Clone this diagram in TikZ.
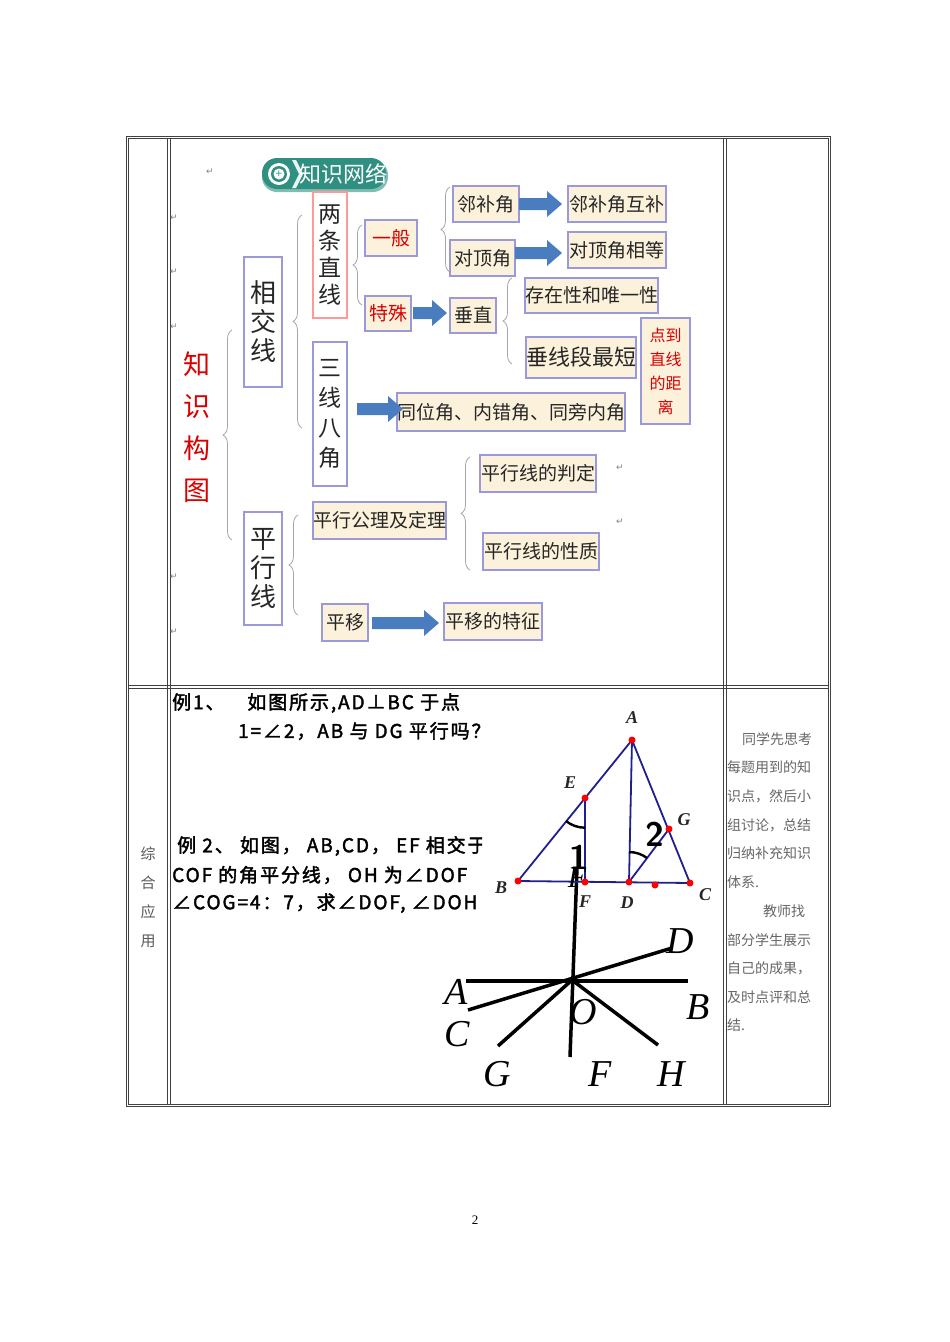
\documentclass[tikz,border=0pt]{standalone}
\usepackage{fontspec}
\setmainfont{Liberation Serif}
\newfontfamily\cjk{Noto Sans CJK SC}
\newfontfamily\cjkb[FakeBold=2,LetterSpace=10]{Noto Sans CJK SC}
\newfontfamily\dvs{DejaVu Sans}
\usetikzlibrary{decorations.pathreplacing}
\definecolor{bxfill}{HTML}{FCF2DC}
\definecolor{bxline}{HTML}{9A9ADA}
\definecolor{arrc}{HTML}{4A7CC0}
\definecolor{tri}{HTML}{1F1F8F}
\definecolor{badge}{HTML}{2F8F80}
\tikzset{
 bx/.style={draw=bxline,line width=1.2pt,fill=bxfill,inner sep=0pt,font=\cjk\fontsize{19}{21}\selectfont,text=black!85},
 vbx/.style={draw=bxline,line width=1.2pt,fill=white,inner sep=0pt,align=center,font=\cjk\fontsize{26}{29}\selectfont,text=black!85},
 brc/.style={draw=gray!70,line width=0.8pt,decorate,decoration={brace,amplitude=9pt}},
 tbl/.style={draw=black!75,line width=0.8pt},
 ret/.style={font=\dvs\fontsize{9}{9}\selectfont,text=gray},
 tl/.style={draw=tri,line width=1.8pt},
 dot/.style={circle,fill=red,inner sep=0pt,minimum size=7pt},
 pl/.style={font=\bfseries\itshape\fontsize{18}{18}\selectfont,text=black!85},
 bl/.style={line width=3.5pt,draw=black},
 big/.style={font=\itshape\fontsize{38}{38}\selectfont},
 ex/.style={font=\cjkb\fontsize{19}{21}\selectfont,anchor=west,inner sep=0pt},
 rc/.style={font=\cjk\fontsize{14}{14}\selectfont,text=black!60,anchor=west,inner sep=0pt}
}
\newcommand\bxn[7]{\node[#7,minimum width=#4pt-#2pt,minimum height=#5pt-#3pt] (#1) at ({(#2+#4)/2},{(#3+#5)/2}) {#6};}
\newcommand\barr[3]{\fill[arrc] (#1,{#3-6}) -- ({#2-15},{#3-6}) -- ({#2-15},{#3-13}) -- (#2,#3) -- ({#2-15},{#3+13}) -- ({#2-15},{#3+6}) -- (#1,{#3+6}) -- cycle;}
\begin{document}
\begin{tikzpicture}[x=1pt,y=-1pt]
\useasboundingbox (0,0) rectangle (950,1342);
% table
\draw[tbl] (126,136) rectangle (830,1106);
\draw[tbl] (128,138) rectangle (828,1104);
\draw[tbl] (167,138) -- (167,1104);
\draw[tbl] (170,138) -- (170,1104);
\draw[tbl] (723,138) -- (723,1104);
\draw[tbl] (726,138) -- (726,1104);
\draw[tbl] (128,685) -- (828,685);
\draw[tbl] (128,688) -- (828,688);
% header badge
\fill[badge!60!white,rounded corners=15pt] (262,160) rectangle (388,192);
\fill[badge,rounded corners=15pt] (262,158) rectangle (386,189);
\fill[white] (279,174) circle (11);
\fill[badge] (279,174) circle (8);
\fill[white] (279,174) circle (5.5);
\node[font=\dvs\fontsize{9}{9}\selectfont,text=badge] (plus) at (279,174) {+};
\fill[white!90!badge] (292,160) -- (299,174) -- (292,188) -- (296,188) -- (303,174) -- (296,160) -- cycle;
\node[font=\cjk\fontsize{22}{22}\selectfont,text=white] (hdr) at (343,174) {知识网络};
% return marks
\foreach \x/\y [count=\i] in {210/172,174/218,174/272,174/327,174/577,174/632,620/468,620/522}
  \node[ret] (r\i) at (\x,\y) {↵};
% left title
\node[align=center,font=\cjk\fontsize{27}{42}\selectfont,text=red!85!black] (title) at (197,427) {知\\识\\构\\图};
% vertical boxes
\bxn{xjx}{244}{257}{282}{387}{相\\交\\线}{vbx}
\bxn{pxx}{244}{512}{282}{625}{平\\行\\线}{vbx}
\bxn{ltzx}{313}{192}{347}{318}{两\\条\\直\\线}{vbx,draw=red!40,font=\cjk\fontsize{23}{27}\selectfont}
\bxn{sxba}{313}{342}{347}{486}{三\\线\\八\\角}{vbx,font=\cjk\fontsize{23}{30}\selectfont}
% braces
\draw[brc] (232,540) -- (232,330);
\draw[brc] (302,428) -- (302,215);
\draw[brc] (362,305) -- (362,225);
\draw[brc] (512,364) -- (512,278);
\draw[brc] (450,272) -- (450,187);
\draw[brc] (298,615) -- (298,515);
\draw[brc] (470,570) -- (470,457);
% small boxes
\bxn{yb}{365}{220}{417}{256}{一般}{bx,text=red!85!black}
\bxn{ts}{365}{296}{411}{331}{特殊}{bx,text=red!85!black}
\bxn{cz}{450}{298}{496}{333}{垂直}{bx}
\bxn{czx}{526}{278}{657}{313}{存在性和唯一性}{bx}
\bxn{cxd}{526}{337}{636}{378}{垂线段最短}{bx,font=\cjk\fontsize{22}{24}\selectfont}
\bxn{djl}{641}{318}{690}{424}{点到\\直线\\的距\\离}{bx,align=center,text=red!85!black,font=\cjk\fontsize{16}{24}\selectfont}
\bxn{lbj}{453}{186}{519}{222}{邻补角}{bx}
\bxn{lbjhb}{568}{186}{666}{222}{邻补角互补}{bx}
\bxn{dbj}{450}{240}{515}{276}{对顶角}{bx}
\bxn{dbjxd}{568}{232}{666}{268}{对顶角相等}{bx}
\bxn{tw}{401}{393}{621}{431}{同位角、内错角、同旁内角}{bx}
\bxn{pgl}{313}{502}{446}{539}{平行公理及定理}{bx}
\bxn{pd}{480}{455}{596}{492}{平行线的判定}{bx}
\bxn{xz}{483}{533}{599}{570}{平行线的性质}{bx}
\bxn{py}{322}{604}{368}{641}{平移}{bx}
\bxn{pytz}{444}{603}{542}{640}{平移的特征}{bx}
% block arrows
\barr{413}{447}{313}
\barr{519}{562}{204}
\barr{515}{562}{253}
\barr{357}{403}{409}
\barr{372}{439}{623}
% left column
\node[align=center,font=\cjk\fontsize{15}{29}\selectfont,text=black!65] (zh) at (148,897) {综\\合\\应\\用};
% examples
\node[ex] (e1) at (172,703) {例1、\hspace{1.2em}如图所示,AD⊥BC 于点};
\node[ex] (e1b) at (238,731) {1=∠2，AB 与 DG 平行吗？};
\begin{scope}
\clip (170,820) rectangle (482,930);
\node[ex] (e2a) at (177,846) {例 2、 如图， AB,CD， EF 相交于};
\node[ex] (e2b) at (172,875) {COF 的角平分线， OH 为∠DOF};
\node[ex] (e2c) at (172,903) {∠COG=4：7，求∠DOF, ∠DOH 的};
\end{scope}
% right column
\node[rc] (t1) at (742,739) {同学先思考};
\node[rc] (t2) at (727,767) {每题用到的知};
\node[rc] (t3) at (727,796) {识点，然后小};
\node[rc] (t4) at (727,825) {组讨论，总结};
\node[rc] (t5) at (727,853) {归纳补充知识};
\node[rc] (t6) at (727,882) {体系.};
\node[rc] (t7) at (763,911) {教师找};
\node[rc] (t8) at (727,940) {部分学生展示};
\node[rc] (t9) at (727,968) {自己的成果，};
\node[rc] (t10) at (727,997) {及时点评和总};
\node[rc] (t11) at (727,1025) {结.};
% figure 2 (lines)
\coordinate (O) at (572,980);
\coordinate (pA) at (466,981);
\coordinate (pB) at (688,981);
\coordinate (pC) at (468,1010);
\coordinate (pD) at (672,948);
\coordinate (pE) at (577,868);
\coordinate (pF) at (570,1057);
\coordinate (pG) at (498,1046);
\coordinate (pH) at (658,1045);
\draw[bl] (pA) -- (pB);
\draw[bl] (pC) -- (pD);
\draw[bl] (pE) -- (pF);
\draw[bl] (O) -- (pG);
\draw[bl] (O) -- (pH);
\node[big] (lA) at (456,992) {A};
\node[big] (lB) at (698,1007) {B};
\node[big] (lC) at (457,1034) {C};
\node[big] (lD) at (680,941) {D};
\node[big] (lO) at (583,1012) {O};
\node[big] (lG) at (497,1074) {G};
\node[big] (lF) at (600,1074) {F};
\node[big] (lH) at (671,1074) {H};
% figure 1 (triangle)
\coordinate (A) at (632,740);
\coordinate (E) at (585,798);
\coordinate (B) at (518,881);
\coordinate (F) at (585,882);
\coordinate (D) at (629,882);
\coordinate (C) at (690,883);
\coordinate (G) at (669,829);
\coordinate (M) at (655,885);
\draw[tl] (B) -- (A) -- (C) -- cycle;
\draw[tl] (E) -- (F);
\draw[tl] (A) -- (D) -- (G);
\draw[line width=2.4pt] (566,821) arc[start angle=129,end angle=90,radius=30];
\draw[line width=2.4pt] (629,852) arc[start angle=-90,end angle=-53,radius=30];
\node[font=\sffamily\bfseries\fontsize{34}{34}\selectfont] (n1) at (579,857) {1};
\node[font=\sffamily\bfseries\fontsize{34}{34}\selectfont] (n2) at (655,834) {2};
\node[font=\itshape\fontsize{30}{30}\selectfont] (bigF) at (577,878) {F};
\foreach \p in {A,E,B,F,D,C,G,M} \node[dot] at (\p) {};
\node[pl] (la) at (632,718) {A};
\node[pl] (le) at (570,783) {E};
\node[pl] (lg) at (684,820) {G};
\node[pl] (lb) at (501,888) {B};
\node[pl] (lf) at (585,902) {F};
\node[pl] (ld) at (627,903) {D};
\node[pl] (lc) at (705,895) {C};
% page number
\node[font=\fontsize{13}{13}\selectfont] (pg) at (475,1220) {2};
\end{tikzpicture}
\end{document}
